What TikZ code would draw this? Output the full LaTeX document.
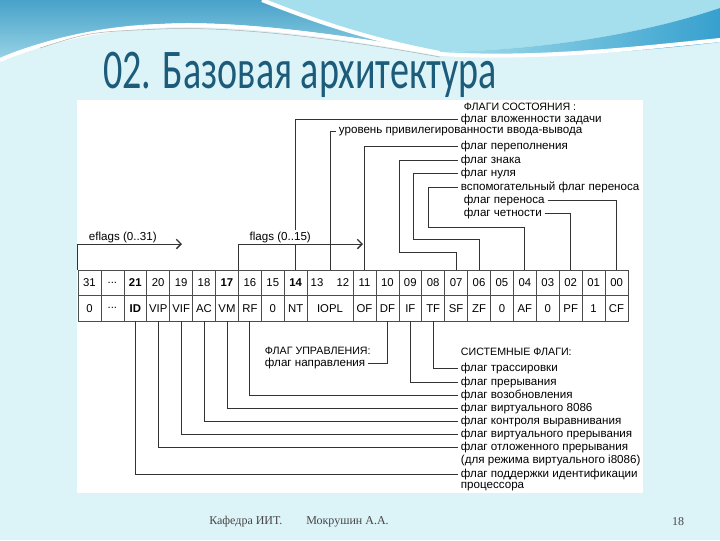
\documentclass[tikz,border=0pt]{standalone}
\usepackage{fontspec}
\usepackage{graphicx}
\setmainfont{Liberation Sans}
\newfontfamily\titlefont{Carlito}
\newfontfamily\footfont{Liberation Serif}
\usetikzlibrary{arrows.meta}
\definecolor{bg}{RGB}{220,243,248}
\definecolor{waveA}{RGB}{72,162,202}
\definecolor{waveAb}{RGB}{150,210,228}
\definecolor{waveB}{RGB}{165,222,236}
\definecolor{waveC}{RGB}{55,160,206}
\definecolor{titlecol}{RGB}{28,92,122}
\definecolor{footcol}{RGB}{70,70,70}
\tikzset{
  cell/.style={draw=black!70, line width=0.5pt, minimum width=17.1875pt, minimum height=19.125pt, inner sep=0pt, font=\fontsize{8.5}{9}\selectfont},
  lbl/.style={anchor=west, inner sep=2pt, font=\fontsize{8.7}{9}\selectfont},
  head/.style={anchor=west, inner sep=2pt, font=\fontsize{8}{9}\selectfont},
  conn/.style={draw=black!80, line width=0.6pt},
  rangearrow/.style={draw=black!80, line width=0.6pt, -{Straight Barb[length=3.5pt,width=7pt,line width=1pt]}}
}
\begin{document}
\begin{tikzpicture}[x=0.75pt,y=-0.75pt]
\useasboundingbox (0,0) rectangle (720,540);
% background
\fill[bg] (0,0) rectangle (720,540);
\shade[top color=waveA, bottom color=waveAb] (0,0) -- (265,0) .. controls (300,15) and (360,38) .. (440,52) .. controls (330,32) and (230,20) .. (160,24) .. controls (90,28) and (30,45) .. (0,58) -- cycle;
\fill[waveB] (265,0) -- (720,0) -- (720,8) .. controls (640,35) and (540,50) .. (440,52) .. controls (360,38) and (300,15) .. (265,0) -- cycle;
\shade[left color=waveB, right color=waveC] (440,52) .. controls (540,50) and (640,35) .. (720,8) -- (720,42) .. controls (640,52) and (540,58) .. (440,56) -- cycle;
\draw[white, line width=3pt] (0,60) .. controls (30,47) and (90,28) .. (160,26) .. controls (230,22) and (330,34) .. (440,54) .. controls (540,60) and (640,48) .. (720,40);
\draw[white, line width=3pt] (262,0) .. controls (300,15) and (360,38) .. (440,53);
\draw[black!30, line width=0.4pt] (40,48) .. controls (90,32) .. (160,29) .. controls (230,26) and (330,37) .. (440,57);
% title
\node[anchor=base west, inner sep=0pt, text=titlecol] (title) at (103,88) {\titlefont\fontsize{42}{42}\selectfont\scalebox{0.68}[1]{02. Базовая архитектура}};
% white panel
\fill[white] (77,100) rectangle (643,493);
% table
\foreach \i/\a/\b/\n in {0/31/0/31, 2/\textbf{21}/\textbf{ID}/21, 3/20/VIP/20, 4/19/VIF/19, 5/18/AC/18, 6/\textbf{17}/VM/17, 7/16/RF/16, 8/15/0/15, 9/\textbf{14}/NT/14, 12/11/OF/11, 13/10/DF/10, 14/09/IF/09, 15/08/TF/08, 16/07/SF/07, 17/06/ZF/06, 18/05/0/05, 19/04/AF/04, 20/03/0/03, 21/02/PF/02, 22/01/1/01, 23/00/CF/00}{
  \node[cell] (t\n) at ({78+(\i+0.5)*22.9167},282.75) {\a};
  \node[cell] (b\n) at ({78+(\i+0.5)*22.9167},308.25) {\b};
}
\node[cell] (tdots) at ({78+1.5*22.9167},282.75) {...};
\node[cell] (bdots) at ({78+1.5*22.9167},308.25) {...};
\node[cell, minimum width=34.375pt] (t13) at (330,282.75) {13\hspace{10pt}12};
\node[cell, minimum width=34.375pt] (b13) at (330,308.25) {IOPL};
% status flags
\node[head] (hStatus) at (461,107) {ФЛАГИ СОСТОЯНИЯ :};
\node[lbl] (lNT) at (458,119.5) {флаг вложенности задачи};
\node[lbl] (lIOPL) at (336,131.5) {уровень привилегированности ввода-вывода};
\node[lbl] (lOF) at (458,146.5) {флаг переполнения};
\node[lbl] (lSF) at (458,160) {флаг знака};
\node[lbl] (lZF) at (458,173.5) {флаг нуля};
\node[lbl] (lAF) at (458,187) {вспомогательный флаг переноса};
\node[lbl] (lCF) at (461,200) {флаг переноса};
\node[lbl] (lPF) at (461,213) {флаг четности};
\draw[conn] (t14.north) |- (lNT.west);
\draw[conn] (t13.north) |- (lIOPL.west);
\draw[conn] (t11.north) |- (lOF.west);
\draw[conn] (t07.north) |- (399,252) |- (lSF.west);
\draw[conn] (t06.north) |- (413,239) |- (lZF.west);
\draw[conn] (t04.north) |- (428,227) |- (lAF.west);
\draw[conn] (lCF.east) -| (t00.north);
\draw[conn] (lPF.east) -| (t02.north);
% register range arrows
\node[lbl] (eflags) at (86,237) {eflags (0..31)};
\node[lbl, fill=white, inner sep=1pt] (flags) at (248,237) {flags (0..15)};
\coordinate (eEnd) at (182,244);
\coordinate (fEnd) at (363,244);
\draw[rangearrow] (t31.north west) |- (eEnd);
\draw[rangearrow] (t16.north west) |- (fEnd);
% control flag
\node[head] (hCtrl) at (262,351) {ФЛАГ УПРАВЛЕНИЯ:};
\node[lbl] (lDF) at (262,363) {флаг направления};
\draw[conn] (b10.south) |- (lDF.east);
% system flags
\node[head] (hSys) at (458,352) {СИСТЕМНЫЕ ФЛАГИ:};
\node[lbl] (lTF) at (458,368) {флаг трассировки};
\node[lbl] (lIF) at (458,382) {флаг прерывания};
\node[lbl] (lRF) at (458,395) {флаг возобновления};
\node[lbl] (lVM) at (458,408) {флаг виртуального 8086};
\node[lbl] (lAC) at (458,421) {флаг контроля выравнивания};
\node[lbl] (lVIF) at (458,434) {флаг виртуального прерывания};
\node[lbl] (lVIP) at (458,447) {флаг отложенного прерывания};
\node[lbl] (lVIPb) at (458,460) {(для режима виртуального i8086)};
\node[lbl] (lID) at (458,474) {флаг поддержки идентификации};
\node[lbl] (lIDb) at (458,487) {процессора};
\draw[conn] (b08.south) |- (lTF.west);
\draw[conn] (b09.south) |- (lIF.west);
\draw[conn] (b16.south) |- (lRF.west);
\draw[conn] (b17.south) |- (lVM.west);
\draw[conn] (b18.south) |- (lAC.west);
\draw[conn] (b19.south) |- (lVIF.west);
\draw[conn] (b20.south) |- (lVIP.west);
\draw[conn] (b21.south) |- (lID.west);
% footer
\node[anchor=west, inner sep=0pt, text=footcol, font=\footfont\fontsize{9}{10}\selectfont] (foot) at (209,522) {Кафедра ИИТ.\hspace{2em}Мокрушин А.А.};
\node[inner sep=0pt, text=footcol, font=\footfont\fontsize{9}{10}\selectfont] (page) at (678,522) {18};
\end{tikzpicture}
\end{document}
